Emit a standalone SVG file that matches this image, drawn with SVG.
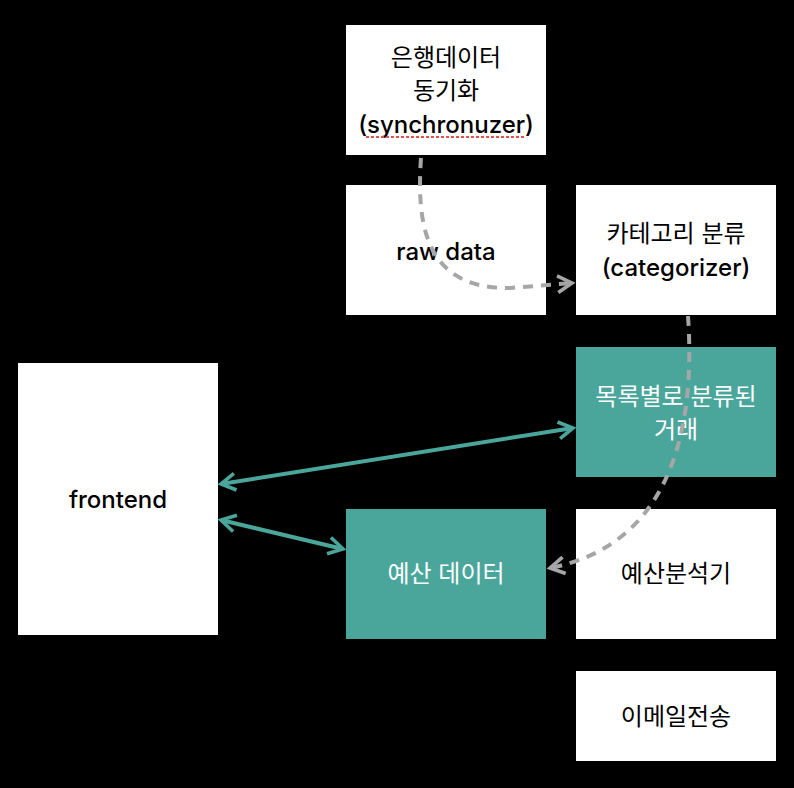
<svg xmlns="http://www.w3.org/2000/svg" width="794" height="788" viewBox="0 0 794 788">
<defs>
<style>
.box{fill:#ffffff}
.teal{fill:#4aa69b}
.t{font-family:Inter,"Noto Sans CJK KR",sans-serif;font-size:24px;text-anchor:middle;fill:#000}
.tw{font-family:Inter,"Noto Sans CJK KR",sans-serif;font-size:24px;text-anchor:middle;fill:#fff}
.lat{font-weight:500}
.dash{fill:none;stroke:#a6a6a6;stroke-width:4;stroke-dasharray:10,8}
.tl{fill:none;stroke:#4aa69b;stroke-width:4}
</style>
<marker id="ag" viewBox="0 0 20 20" refX="16" refY="10" markerWidth="6" markerHeight="6" orient="auto" markerUnits="strokeWidth"><path d="M4,3 L16,10 L4,17" fill="none" stroke="#a6a6a6" stroke-width="3"/></marker>
<marker id="at" viewBox="0 0 20 20" refX="16" refY="10" markerWidth="6" markerHeight="6" orient="auto-start-reverse" markerUnits="strokeWidth"><path d="M4,3 L16,10 L4,17" fill="none" stroke="#4aa69b" stroke-width="3"/></marker>
</defs>
<rect width="794" height="788" fill="#000"/>
<g id="sync"><rect class="box" x="346" y="25" width="200" height="130"/>
<text class="t" x="446" y="66">은행데이터</text><text class="t" x="446" y="99">동기화</text><text class="t lat" x="446" y="133">(synchronuzer)</text>
<line x1="366" y1="137" x2="524" y2="137" stroke="#e0524a" stroke-width="2" stroke-dasharray="3,2"/></g>
<g id="raw"><rect class="box" x="346" y="185" width="200" height="130"/><text class="t lat" x="446" y="260">raw data</text></g>
<g id="cat"><rect class="box" x="576" y="185" width="200" height="130"/><text class="t" x="676" y="242">카테고리 분류</text><text class="t lat" x="676" y="276">(categorizer)</text></g>
<g id="tx"><rect class="teal" x="576" y="347" width="200" height="130"/><text class="tw" x="676" y="405">목록별로 분류된</text><text class="tw" x="676" y="438">거래</text></g>
<g id="frontend"><rect class="box" x="18" y="363" width="200" height="272"/><text class="t lat" x="118" y="508">frontend</text></g>
<g id="budget"><rect class="teal" x="346" y="509" width="200" height="130"/><text class="tw" x="446" y="582">예산 데이터</text></g>
<g id="analyzer"><rect class="box" x="576" y="509" width="200" height="130"/><text class="t" x="676" y="582">예산분석기</text></g>
<g id="email"><rect class="box" x="576" y="671" width="200" height="90"/><text class="t" x="676" y="725">이메일전송</text></g>
<g id="connectors">
<path class="dash" d="M421,158 C416,230 428,289 510,288 L572,283" marker-end="url(#ag)"/>
<path class="dash" d="M688,316 C696,430 670,545 550,568" marker-end="url(#ag)"/>
<line class="tl" x1="221" y1="484" x2="573" y2="428" marker-start="url(#at)" marker-end="url(#at)"/>
<line class="tl" x1="221" y1="520" x2="343" y2="549" marker-start="url(#at)" marker-end="url(#at)"/>
</g>
</svg>
